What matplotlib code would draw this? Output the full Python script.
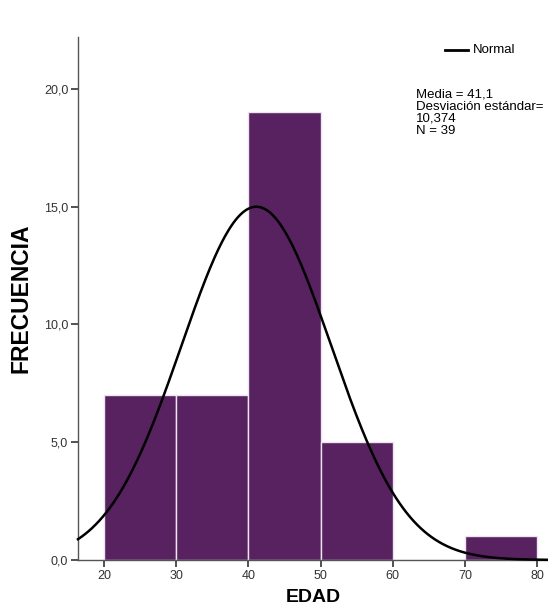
import matplotlib.pyplot as plt
import numpy as np

plt.rcParams["font.family"] = ["Liberation Sans", "DejaVu Sans"]

# Histogram data (EDAD)
bin_edges = [20, 30, 40, 50, 60, 70, 80]
counts = [7, 7, 19, 5, 0, 1]
media = 41.1
desv = 10.374
n = 39

fig = plt.figure(figsize=(5.48, 6.13), dpi=100)
ax = fig.add_axes([0.1423, 0.0865, 0.8577, 0.853])

lefts = bin_edges[:-1]
widths = np.diff(bin_edges)
ax.bar(lefts, counts, width=widths, align="edge", color="#57225f",
       edgecolor="#ece4ee", linewidth=1.0, zorder=2)

# Normal curve scaled to counts
xlim = (16.4, 81.5)
xs = np.linspace(xlim[0], xlim[1], 400)
scale = n * 10
ys = scale / (desv * np.sqrt(2 * np.pi)) * np.exp(-0.5 * ((xs - media) / desv) ** 2)
ax.plot(xs, ys, color="black", linewidth=1.8, zorder=3, clip_on=False)

ax.set_xlim(*xlim)
ax.set_ylim(0, 22.2)
ax.set_xticks([20, 30, 40, 50, 60, 70, 80])
ax.set_yticks([0, 5, 10, 15, 20])
ax.set_yticklabels(["0,0", "5,0", "10,0", "15,0", "20,0"])

for side in ["top", "right"]:
    ax.spines[side].set_visible(False)
for side in ["left", "bottom"]:
    ax.spines[side].set_color("#555555")
    ax.spines[side].set_linewidth(1.0)
ax.tick_params(axis="both", direction="out", length=5, width=1.2,
               colors="#333333", labelsize=9, pad=2)

ax.set_xlabel("EDAD", fontsize=14, fontweight="bold", labelpad=5)
ax.set_ylabel("FRECUENCIA", fontsize=16.5, fontweight="bold", labelpad=8)

# Legend and stats
fig.lines.append(plt.Line2D([0.812, 0.854], [0.9185, 0.9185], color="black",
                            linewidth=2, transform=fig.transFigure))
fig.text(0.862, 0.9185, "Normal", fontsize=9.5, va="center", ha="left")
fig.text(0.759, 0.855,
         "Media = 41,1\nDesviación estándar=\n10,374\nN = 39",
         fontsize=9.5, va="top", ha="left", linespacing=1.0)

plt.savefig("out.png", dpi=100)
